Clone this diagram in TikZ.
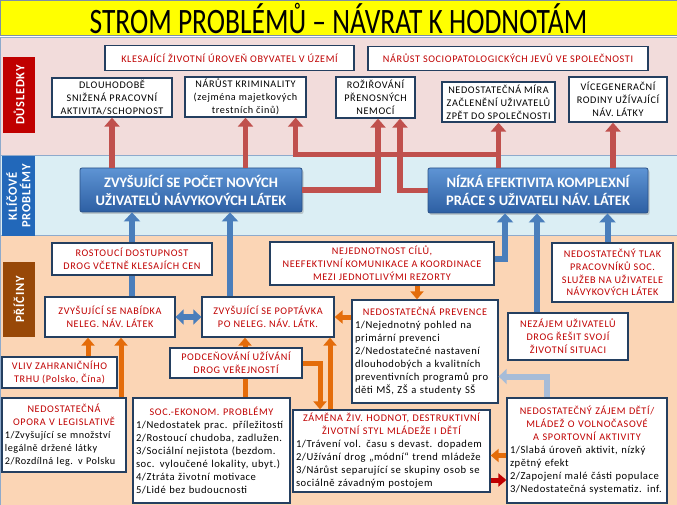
\documentclass[tikz,border=0pt]{standalone}
\usepackage{fontspec}
\setmainfont{Carlito}
\newfontfamily\capsf[LetterSpace=6]{Carlito}
\newfontfamily\listf[LetterSpace=5]{Carlito}
\usetikzlibrary{arrows.meta,shadows}
\setlength{\parindent}{0pt}

\definecolor{titleyellow}{HTML}{FFFF00}
\definecolor{titleline}{HTML}{7F8FA6}
\definecolor{bandpink}{HTML}{F2DCDB}
\definecolor{bandblue}{HTML}{DBEEF4}
\definecolor{bandpeach}{HTML}{FBD5B5}
\definecolor{bandline}{HTML}{8EAACC}
\definecolor{labred}{HTML}{C00000}
\definecolor{labblue}{HTML}{2268BA}
\definecolor{labbrown}{HTML}{984807}
\definecolor{boxline}{HTML}{243F60}
\definecolor{txtred}{HTML}{C00000}
\definecolor{keytop}{HTML}{5E94D4}
\definecolor{keybot}{HTML}{2D5FA3}
\definecolor{keyline}{HTML}{2A5085}
\definecolor{arrred}{HTML}{C0504D}
\definecolor{arrblue}{HTML}{4A7EBB}
\definecolor{arrorange}{HTML}{E46C0A}
\definecolor{arrgray}{HTML}{A7BCD8}
\definecolor{arrdark}{HTML}{C00000}

\newcommand{\listtitle}[1]{{\centering\capsf\fontsize{10.2}{13}\selectfont\color{txtred}#1\par}}

\begin{document}
\begin{tikzpicture}[x=1pt,y=-1pt,
	box/.style={draw=boxline,line width=1.3pt,fill=white,inner sep=1.5pt,
		align=center,text=txtred,font=\capsf\fontsize{10.2}{12.8}\selectfont},
	blackbox/.style={box,text=black},
	listbox/.style={box,align=left,text=black,inner sep=3pt,
		font=\listf\fontsize{10.6}{13}\selectfont},
	keybox/.style={draw=keyline,line width=0.8pt,top color=keytop,bottom color=keybot,
		rounded corners=2pt,text=white,align=center,
		font=\bfseries\fontsize{14.5}{18}\selectfont,
		drop shadow={opacity=0.35,shadow xshift=1.5pt,shadow yshift=-2pt}},
	sidelabel/.style={rotate=90,text=white,align=center,inner sep=0pt,
		font=\capsf\bfseries\fontsize{12.5}{13.5}\selectfont},
	sz/.style 2 args={minimum width=#1,minimum height=#2},
	lsz/.style 2 args={text width=#1,minimum height=#2},
	redarr/.style={draw=arrred,line width=5.5pt,-{Triangle[width=15pt,length=9pt]}},
	bluearr/.style={draw=arrblue,line width=6pt,-{Triangle[width=16pt,length=9pt]}},
	blueln/.style={draw=arrblue,line width=6pt},
	bluedbl/.style={draw=arrblue,line width=6pt,{Triangle[width=15pt,length=8pt]}-{Triangle[width=15pt,length=8pt]}},
	grayarr/.style={draw=arrgray,line width=6pt,-{Triangle[width=15pt,length=8pt]}},
	orarr/.style={draw=arrorange,line width=5pt,-{Triangle[width=13pt,length=8pt]}},
	orln/.style={draw=arrorange,line width=5pt},
	darkarr/.style={draw=arrdark,line width=5pt,-{Triangle[width=13pt,length=8pt]}}]
	
	\useasboundingbox (0,0) rectangle (677,505);
	
	% ---- 标题 ----
	\fill[titleyellow,draw=titleline,line width=1pt] (0,0.5) rectangle (677,36);
	\node (title) at (338.5,19) {\scalebox{1}[1.3]{\fontsize{27.5}{30}\selectfont STROM PROBLÉMŮ – NÁVRAT K HODNOTÁM}};
	
	% ---- 三个色带 ----
	\fill[bandpink,draw=bandline,line width=0.8pt] (0,37) rectangle (677,155);
	\fill[bandblue,draw=bandline,line width=0.8pt] (0,155) rectangle (677,235);
	\fill[bandpeach,draw=bandline,line width=0.8pt] (0,235) rectangle (677,505);
	
	% ---- 左侧标签 ----
	\node[sidelabel,fill=labred,sz={76pt}{32pt}] (dusl) at (19,95) {DŮSLEDKY};
	\node[sidelabel,fill=labblue,sz={80pt}{33pt}] (klic) at (18.5,196) {KLÍČOVÉ\\PROBLÉMY};
	\node[sidelabel,fill=labbrown,sz={75pt}{32pt}] (pric) at (19,299.5) {PŘÍČINY};
	
	% ---- 后果 ----
	\node[box,sz={249pt}{25pt}] (kles) at (229.5,58) {KLESAJÍCÍ ŽIVOTNÍ ÚROVEŇ OBYVATEL V ÚZEMÍ};
	\node[box,sz={280pt}{24pt}] (spol) at (508,58.5) {NÁRŮST SOCIOPATOLOGICKÝCH JEVŮ VE SPOLEČNOSTI};
	\node[blackbox,sz={120pt}{39pt}] (dlouh) at (112,97.5) {DLOUHODOBĚ\\SNIŽENÁ PRACOVNÍ\\AKTIVITA/SCHOPNOST};
	\node[blackbox,sz={121pt}{40pt}] (krim) at (245.5,97) {NÁRŮST KRIMINALITY\\(zejména majetkových\\trestních činů)};
	\node[blackbox,sz={79pt}{41pt}] (nemoc) at (375.5,97.5) {ROŽIŘOVÁNÍ\\PŘENOSNÝCH\\NEMOCÍ};
	\node[blackbox,sz={113pt}{40pt}] (zacl) at (498.5,102) {NEDOSTATEČNÁ MÍRA\\ZAČLENĚNÍ UŽIVATELŮ\\ZPĚT DO SPOLEČNOSTI};
	\node[blackbox,sz={98pt}{45pt}] (rod) at (618,99.5) {VÍCEGENERAČNÍ\\RODINY UŽÍVAJÍCÍ\\NÁV. LÁTKY};
	
	% ---- 关键问题 ----
	\node[keybox,sz={222pt}{44pt}] (K1) at (191,190) {ZVYŠUJÍCÍ SE POČET NOVÝCH\\UŽIVATELŮ NÁVYKOVÝCH LÁTEK};
	\node[keybox,sz={220pt}{45pt}] (K2) at (538,190.5) {NÍZKÁ EFEKTIVITA KOMPLEXNÍ\\PRÁCE S UŽIVATELI NÁV. LÁTEK};
	
	% ---- 原因 ----
	\node[box,sz={160pt}{32pt}] (rost) at (132,259) {ROSTOUCÍ DOSTUPNOST\\DROG VČETNĚ KLESAJÍCH CEN};
	\node[box,sz={224pt}{43pt}] (nejed) at (382,263.5) {NEJEDNOTNOST CÍLŮ,\\NEEFEKTIVNÍ KOMUNIKACE A KOORDINACE\\MEZI JEDNOTLIVÝMI REZORTY};
	\node[box,sz={121pt}{59pt}] (tlak) at (612.5,272.5) {NEDOSTATEČNÝ TLAK\\PRACOVNÍKŮ SOC.\\SLUŽEB NA UŽIVATELE\\NÁVYKOVÝCH LÁTEK};
	\node[box,sz={130pt}{40pt}] (nab) at (110,317) {ZVYŠUJÍCÍ SE NABÍDKA\\NELEG. NÁV. LÁTEK};
	\node[box,sz={132pt}{40pt}] (pop) at (268,317) {ZVYŠUJÍCÍ SE POPTÁVKA\\PO NELEG. NÁV. LÁTK.};
	\node[box,sz={120pt}{47pt}] (nez) at (568,336.5) {NEZÁJEM UŽIVATELŮ\\DROG ŘEŠIT SVOJÍ\\ŽIVOTNÍ SITUACI};
	\node[box,sz={115pt}{31pt}] (vliv) at (59.5,372.5) {VLIV ZAHRANIČNÍHO\\TRHU (Polsko, Čína)};
	\node[box,sz={132pt}{30pt}] (pod) at (236,363) {PODCEŇOVÁNÍ UŽÍVÁNÍ\\DROG VEŘEJNOSTÍ};
	\node[listbox,lsz={140pt}{103pt}] (prev) at (425,351.5) {\listtitle{NEDOSTATEČNÁ PREVENCE}1/Nejednotný pohled na\\primární prevenci\\2/Nedostatečné nastavení\\dlouhodobých a kvalitních\\preventivních programů pro\\děti MŠ, ZŠ a studenty SŠ};
	\node[listbox,lsz={118pt}{74pt},font=\listf\fontsize{10.2}{13}\selectfont] (opo) at (64,435) {\listtitle{NEDOSTATEČNÁ\\OPORA V LEGISLATIVĚ}1/Zvyšující se množství\\legálně držené látky\\2/Rozdílná leg. v Polsku};
	\node[listbox,lsz={151pt}{105pt}] (socek) at (211.5,450.5) {\listtitle{SOC.-EKONOM. PROBLÉMY}1/Nedostatek prac. příležitostí\\2/Rostoucí chudoba, zadlužen.\\3/Sociální nejistota (bezdom.\\soc. vyloučené lokality, ubyt.)\\4/Ztráta životní motivace\\5/Lidé bez budoucnosti};
	\node[listbox,lsz={191pt}{82pt}] (zam) at (391.5,451) {\listtitle{ZÁMĚNA ŽIV. HODNOT, DESTRUKTIVNÍ\\ŽIVOTNÍ STYL MLÁDEŽE I DĚTÍ}1/Trávení vol. času s devast. dopadem\\2/Užívání drog „módní“ trend mládeže\\3/Nárůst separující se skupiny osob se\\sociálně závadným postojem};
	\node[listbox,lsz={154pt}{105pt}] (zaj) at (587,450.5) {\listtitle{NEDOSTATEČNÝ ZÁJEM DĚTÍ/\\MLÁDEŽ O VOLNOČASOVÉ\\A SPORTOVNÍ AKTIVITY}1/Slabá úroveň aktivit, nízký\\zpětný efekt\\2/Zapojení malé části populace\\3/Nedostatečná systematiz. inf.};
	
	% ---- 辅助点 ----
	\coordinate (kr) at ([xshift=-11pt]krim.south east);
	\coordinate (ne1) at ([xshift=2.5pt]nemoc.south);
	\coordinate (ne2) at ([xshift=24.5pt]nemoc.south);
	\coordinate (ro) at ([xshift=-5pt]rod.south);
	\coordinate (p1) at ([xshift=-38pt]pop.north);
	\coordinate (n1) at ([xshift=-33pt]K2.south);
	\coordinate (z1) at ([xshift=-31pt]nez.north);
	\coordinate (t1) at ([xshift=-5pt]tlak.north);
	\coordinate (g1) at ([xshift=-40pt]zaj.north);
	\coordinate (g2) at ([yshift=-25pt]prev.east);
	\coordinate (o1) at ([xshift=35pt]nejed.south);
	\coordinate (o2) at ([xshift=9pt]pod.north);
	\coordinate (o3) at ([xshift=-71.5pt]zam.north);
	\coordinate (o4) at ([xshift=-61.5pt]zam.north);
	\coordinate (o5) at ([xshift=28.5pt]vliv.north);
	\coordinate (o6) at ([xshift=57pt]opo.north);
	\coordinate (o7) at ([yshift=-5pt]zaj.west);
	\coordinate (o8) at ([yshift=-29pt]zam.east);
	
	% ---- 红色箭头：关键问题 -> 后果 ----
	\draw[redarr] (dlouh.south |- K1.north) -- (dlouh.south);
	\draw[redarr] (krim.south |- K1.north) -- (krim.south);
	\draw[redarr] (zacl.south |- K2.north) -- (zacl.south);
	\draw[redarr] (zacl.south |- K2.north) -- ++(0,-13) -| (kr);
	\draw[redarr] (K1.east) -| (ne1);
	\draw[redarr] (K2.west) -| (ne2);
	\draw[redarr] (ro |- K2.north) -- (ro);
	
	% ---- 蓝色箭头：原因 -> 关键问题 ----
	\draw[bluearr] (rost.north) -- (rost.north |- K1.south);
	\draw[blueln] (nab.north -| rost.south) -- (rost.south);
	\draw[bluearr] (p1) -- (p1 |- K1.south);
	\draw[bluedbl] (nab.east) -- (pop.west);
	\draw[bluearr] ([yshift=5pt]nejed.east) -| (n1);
	\draw[bluearr] (z1) -- (z1 |- K2.south);
	\draw[bluearr] (t1) -- (t1 |- K2.south);
	\draw[grayarr] (g1) |- (g2);
	
	% ---- 橙色箭头：原因之间 ----
	\draw[orarr] (o1) -- (o1 |- prev.north);
	\draw[orarr] (prev.west |- pop.east) -- (pop.east);
	\draw[orarr] (o2) -- (o2 |- pop.south);
	\draw[orln] (o2 |- socek.north) -- (o2 |- pod.south);
	\draw[orarr] (pod.east) -| (o3);
	\draw[orarr] (o4) -- (o4 |- pop.south);
	\draw[orarr] (o5) -- (o5 |- nab.south);
	\draw[orarr] (o6) -- (o6 |- nab.south);
	\draw[orarr] (o7) -- (o7 -| zam.east);
	\draw[darkarr] (o8) -- (o8 -| zaj.west);
	
\end{tikzpicture}
\end{document}
